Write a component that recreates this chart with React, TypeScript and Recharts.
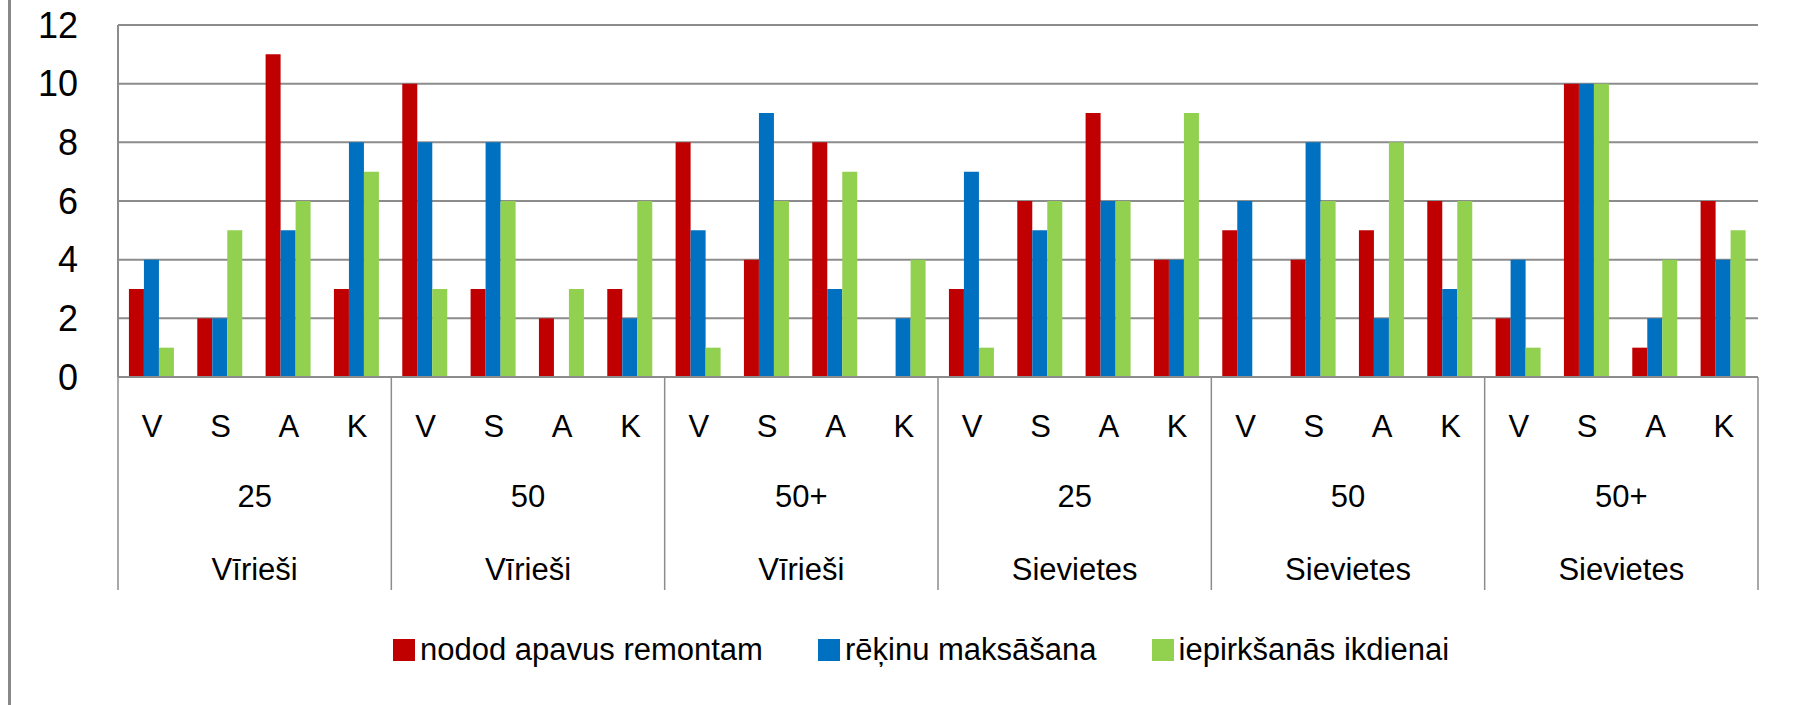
import { Bar, BarChart, CartesianGrid, Legend, XAxis, YAxis } from 'recharts';

const groupCodes = ['V', 'S', 'A', 'K'];
const ageGroups = ['25', '50', '50+', '25', '50', '50+'];
const genders = ['Vīrieši', 'Vīrieši', 'Vīrieši', 'Sievietes', 'Sievietes', 'Sievietes'];

const shoeRepair = [3, 2, 11, 3, 10, 3, 2, 3, 8, 4, 8, 0, 3, 6, 9, 4, 5, 4, 5, 6, 2, 10, 1, 6];
const billPaying = [4, 2, 5, 8, 8, 8, 0, 2, 5, 9, 3, 2, 7, 5, 6, 4, 6, 8, 2, 3, 4, 10, 2, 4];
const dailyShopping = [1, 5, 6, 7, 3, 6, 3, 6, 1, 6, 7, 4, 1, 6, 6, 9, 0, 6, 8, 6, 1, 10, 4, 5];

const yTicks = [0, 2, 4, 6, 8, 10, 12];

const series = [
  { key: 'remont', name: 'nodod apavus remontam', color: '#C00000' },
  { key: 'rekini', name: 'rēķinu maksāšana', color: '#0070C0' },
  { key: 'iepirk', name: 'iepirkšanās ikdienai', color: '#92D050' },
];

const data = ageGroups.flatMap((age, g) =>
  groupCodes.map((code, c) => {
    const i = g * 4 + c;
    return {
      code,
      age,
      gender: genders[g],
      remont: shoeRepair[i],
      rekini: billPaying[i],
      iepirk: dailyShopping[i],
    };
  }),
);

const font = '"Liberation Sans", Arial, sans-serif';
const lineColor = '#8c8c8c';

const CategoryTick = (props: any) => {
  const { x, y, payload, index } = props;
  const half = payload?.offset || 34.17;
  const group = Math.floor(index / 4);
  return (
    <g fontFamily={font} fill="#000">
      <text x={x} y={y + 60} textAnchor="middle" fontSize={31}>
        {payload.value}
      </text>
      {index % 4 === 0 && (
        <>
          <line x1={x - half} x2={x - half} y1={y} y2={y + 213} stroke={lineColor} strokeWidth={1.5} />
          <text x={x + 3 * half} y={y + 130} textAnchor="middle" fontSize={31}>
            {ageGroups[group]}
          </text>
          <text x={x + 3 * half} y={y + 203} textAnchor="middle" fontSize={31}>
            {genders[group]}
          </text>
        </>
      )}
      {index === data.length - 1 && (
        <line x1={x + half} x2={x + half} y1={y} y2={y + 213} stroke={lineColor} strokeWidth={1.5} />
      )}
    </g>
  );
};

const LegendContent = () => (
  <div style={{ display: 'flex', alignItems: 'center', height: 40, fontFamily: font, fontSize: 31, color: '#000' }}>
    {series.map((s) => (
      <div key={s.key} style={{ display: 'flex', alignItems: 'center', marginRight: 55, whiteSpace: 'nowrap' }}>
        <span style={{ display: 'inline-block', width: 22, height: 22, background: s.color, marginRight: 5 }} />
        <span>{s.name}</span>
      </div>
    ))}
  </div>
);

export default function App() {
  return (
    <div style={{ position: 'absolute', left: 0, top: 0, width: 1794, height: 705, background: '#fff' }}>
      <div style={{ position: 'absolute', left: 8, top: 0, width: 3, height: 705, background: '#888' }} />
      <BarChart
        width={1794}
        height={705}
        data={data}
        margin={{ top: 25, right: 36, bottom: 72, left: 0 }}
        barCategoryGap="16%"
        barGap={0}
      >
        <CartesianGrid vertical={false} stroke={lineColor} strokeWidth={2} />
        <XAxis
          dataKey="code"
          interval={0}
          height={216}
          tickLine={false}
          tickSize={0}
          tickMargin={0}
          axisLine={{ stroke: lineColor, strokeWidth: 2 }}
          tick={<CategoryTick />}
        />
        <YAxis
          domain={[0, 12]}
          ticks={yTicks}
          width={118}
          tickLine={false}
          tickSize={0}
          tickMargin={40}
          axisLine={{ stroke: lineColor, strokeWidth: 2 }}
          tick={{ fontSize: 36, fill: '#000', fontFamily: font }}
        />
        <Legend
          content={<LegendContent />}
          wrapperStyle={{ left: 393, top: 630, bottom: 'auto', width: 1300, height: 40 }}
        />
        {series.map((s) => (
          <Bar key={s.key} dataKey={s.key} name={s.name} fill={s.color} isAnimationActive={false} />
        ))}
      </BarChart>
    </div>
  );
}
